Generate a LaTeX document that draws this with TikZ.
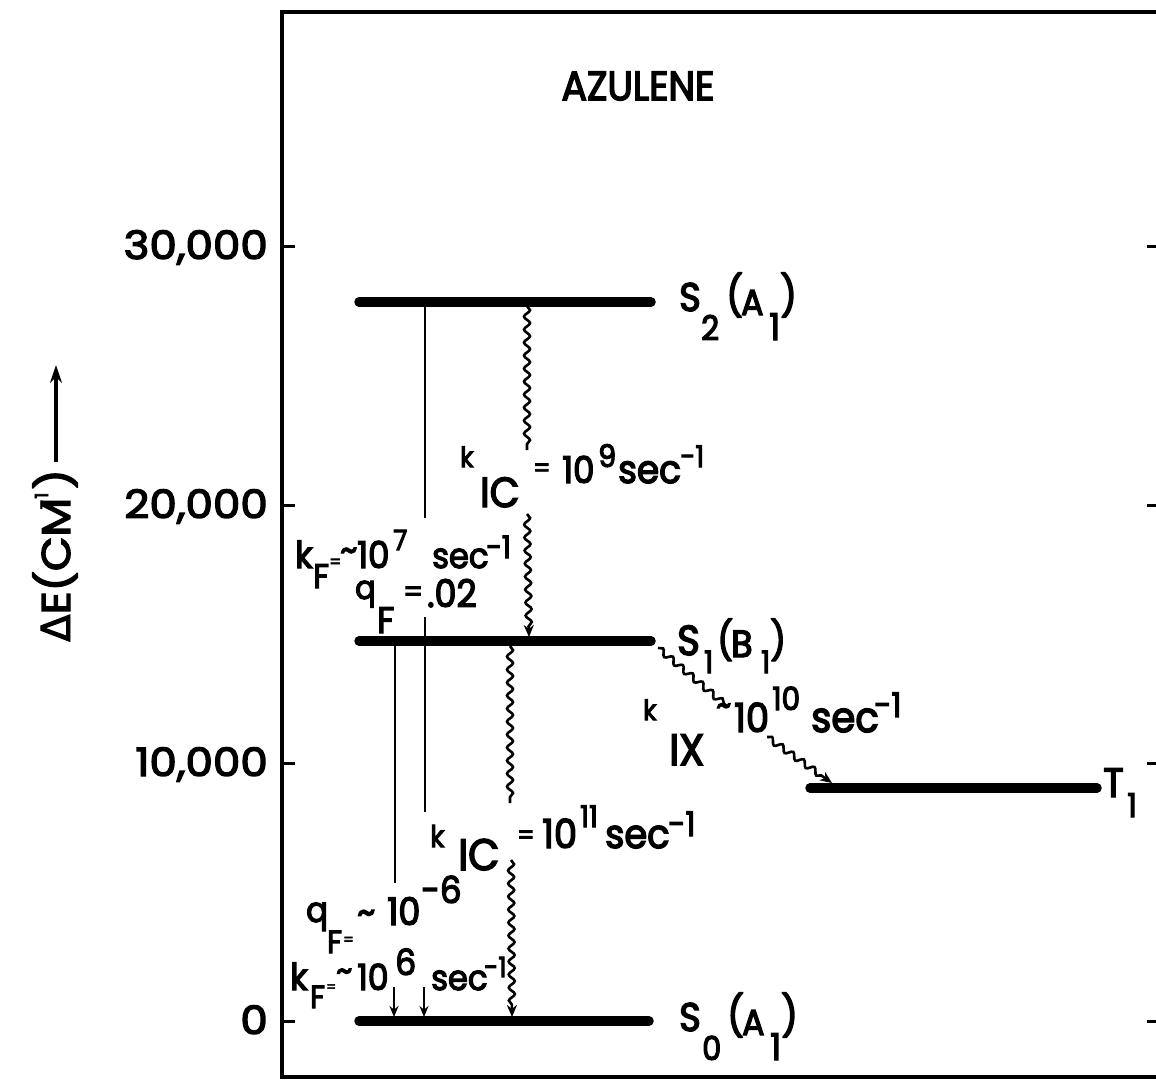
\documentclass[tikz,border=0pt]{standalone}
\usepackage{fontspec}
\usepackage{graphicx}
\setmainfont{Poppins}[FakeBold=3.5]
\newfontfamily\pw{Poppins}[FakeBold=3.5, FakeStretch=1.12]
\newfontfamily\pn{Poppins}[FakeBold=3.5, FakeStretch=0.92]
\newfontfamily\dvs{DejaVu Sans}[FakeBold=2.4]
\usetikzlibrary{arrows.meta,decorations.pathmorphing}
\newcommand\fs[1]{\fontsize{#1pt}{#1pt}\selectfont}
\newcommand\pc[4]{\makebox[#1pt][l]{\raisebox{#2pt}{\fs{#3}#4}}}
\begin{document}
\begin{tikzpicture}[x=1pt,y=-1pt,
 boxline/.style={line width=3.5pt},
 tickline/.style={line width=3pt},
 bar/.style={line width=9.5pt, line cap=round},
 rad/.style={line width=2.7pt},
 arr/.style={-{Stealth[length=11pt,width=9pt]}},
 wav/.style={line width=2.6pt, decorate, decoration={snake, amplitude=3pt, segment length=13pt}},
 wavarr/.style={line width=2.6pt, decorate, decoration={snake, amplitude=3pt, segment length=13pt, post length=9pt}, -{Stealth[length=12pt,width=10pt]}},
 lbl/.style={inner sep=0pt, anchor=base west, font=\pn},
 num/.style={inner sep=0pt, anchor=base east, font=\pw\fs{39}},
]
\useasboundingbox (0,0) rectangle (1156,1082);
\fill[white] (0,0) rectangle (1156,1082);

% frame
\draw[boxline] (1156,12) -- (282,12) -- (282,1077) -- (1156,1077);
\foreach \yy in {246,505,763,1021}{
  \draw[tickline] (282,\yy) -- (295,\yy);
  \draw[tickline] (1147,\yy) -- (1156,\yy);
}

% axis numbers
\node[num] (n30) at (268,259) {30,000};
\node[num] (n20) at (268,518) {20,000};
\node[num] (n10) at (268,776) {10,000};
\node[num] (n0)  at (268,1034) {0};

% axis label
\node[inner sep=0pt, rotate=90, anchor=base west, font=\pw] (elab) at (70,642)
  {\fs{40}{\dvs Δ}E(CM\hspace{-12pt}\raisebox{22pt}{\fs{18}-1}\hspace{3pt})};
\coordinate (ea1) at (56,462);
\coordinate (ea2) at (56,365);
\draw[line width=3.2pt, -{Stealth[length=18pt,width=12pt]}] (ea1) -- (ea2);

% title
\node[inner sep=0pt, font=\pn\fs{41}] (title) at (638,86) {AZULENE};

% levels
\coordinate (s2L) at (359,302); \coordinate (s2R) at (651,302);
\coordinate (s1L) at (359,641); \coordinate (s1R) at (651,641);
\coordinate (s0L) at (359,1021); \coordinate (s0R) at (649,1021);
\coordinate (t1L) at (810,788); \coordinate (t1R) at (1097,788);
\draw[bar] (s2L) -- (s2R);
\draw[bar] (s1L) -- (s1R);
\draw[bar] (s0L) -- (s0R);
\draw[bar] (t1L) -- (t1R);

% level labels
\node[lbl] (S2lab) at (679,311) {\pc{22}{0}{40}{S}\pc{25}{-29}{34}{2}\pc{15}{1}{40}{(}\pc{28}{-4}{36}{A}\pc{11}{-29}{37}{1}\pc{15}{1}{40}{)}};
\node[lbl] (S1lab) at (677,655) {\pc{27}{0}{42}{S}\pc{13}{-18}{31}{1}\pc{14}{1}{38}{(}\pc{30}{-2}{38}{B}\pc{9}{-18}{31}{1}\pc{15}{1}{38}{)}};
\node[lbl] (S0lab) at (679,1031) {\pc{23}{0}{40}{S}\pc{25}{-29}{33}{0}\pc{15}{1}{40}{(}\pc{28}{-4}{36}{A}\pc{11}{-29}{37}{1}\pc{15}{1}{40}{)}};
\node[lbl] (T1lab) at (1103,797) {\pc{24}{0}{41}{T}\pc{10}{-20}{33}{1}};

% fluorescence S2 -> S0 (x=425)
\coordinate (fa1) at (425,306); \coordinate (fa2) at (425,518);
\coordinate (fa3) at (425,617); \coordinate (fa4) at (425,812);
\coordinate (fa5) at (424,987); \coordinate (fa6) at (424,1017);
\draw[rad] (fa1) -- (fa2);
\draw[rad] (fa3) -- (fa4);
\draw[rad, arr] (fa5) -- (fa6);

% fluorescence S1 -> S0 (x=395)
\coordinate (fb1) at (395,645); \coordinate (fb2) at (395,883);
\coordinate (fb3) at (394,987); \coordinate (fb4) at (394,1017);
\draw[rad] (fb1) -- (fb2);
\draw[rad, arr] (fb3) -- (fb4);

% internal conversion S2 -> S1
\coordinate (ia1) at (527,306); \coordinate (ia2) at (527,450);
\coordinate (ia3) at (527,514); \coordinate (ia4) at (529,637);
\draw[wav] (ia1) -- (ia2);
\draw[wavarr] (ia3) -- (ia4);

% internal conversion S1 -> S0
\coordinate (ib1) at (510,646); \coordinate (ib2) at (510,803);
\coordinate (ib3) at (511,860); \coordinate (ib4) at (512,1017);
\draw[wav] (ib1) -- (ib2);
\draw[wavarr] (ib3) -- (ib4);

% intersystem crossing S1 -> T1
\coordinate (xa1) at (658,648); \coordinate (xa2) at (728,707);
\coordinate (xa3) at (767,737); \coordinate (xa4) at (832,783);
\draw[wav] (xa1) -- (xa2);
\draw[wavarr] (xa3) -- (xa4);

% rate labels
\node[lbl] (icA) at (460,483) {\pc{20}{16}{28}{k}\pc{53}{-24}{42}{IC}\pc{29}{6}{26}{=}\pc{36}{0}{37}{10}\pc{20}{16}{31}{9}\pc{62}{0}{39}{sec}\pc{30}{16}{30}{-1}};
\node[lbl] (icB) at (430,848) {\pc{28}{1}{30}{k}\pc{59}{-22}{44}{IC}\pc{25}{4}{26}{=}\pc{38}{0}{40}{10}\pc{25}{21}{30}{11}\pc{63}{0}{40}{sec}\pc{30}{12}{34}{-1}};
\node[lbl] (isc) at (643,732) {\pc{26}{12}{28}{k}\pc{47}{-33}{44}{IX}\pc{18}{16}{32}{\char`\~}\pc{38}{0}{40}{10}\pc{39}{22}{32}{10}\pc{63}{0}{42}{sec}\pc{25}{15}{34}{-1}};
\node[lbl] (kf7) at (295,568) {\pc{18}{0}{37}{k}\pc{16}{-20}{34}{F}\pc{11}{0}{18}{=}\pc{17}{6}{36}{\char`\~}\pc{36}{0}{37}{10}\pc{39}{18}{28}{7}\pc{54}{0}{35}{sec}\pc{28}{10}{31}{-1}};
\node[lbl] (qf2) at (355,607) {\pc{22}{8}{33}{q}\pc{26}{-26}{37}{F}\pc{24}{5}{30}{=}\pc{60}{0}{38}{.02}};
\node[lbl] (qf6) at (306,925) {\pc{21}{3}{35}{q}\pc{16}{-28}{32}{F}\pc{14}{-20}{16}{=}\pc{30}{0}{38}{\char`\~}\pc{34}{0}{38}{10}\pc{40}{22}{37}{-6}};
\node[lbl] (kf6) at (290,990) {\pc{20}{0}{37}{k}\pc{16}{-18}{32}{F}\pc{10}{-2}{15}{=}\pc{21}{8}{34}{\char`\~}\pc{38}{0}{36}{10}\pc{36}{15}{36}{6}\pc{53}{0}{35}{sec}\pc{24}{13}{28}{-1}};
\end{tikzpicture}
\end{document}
